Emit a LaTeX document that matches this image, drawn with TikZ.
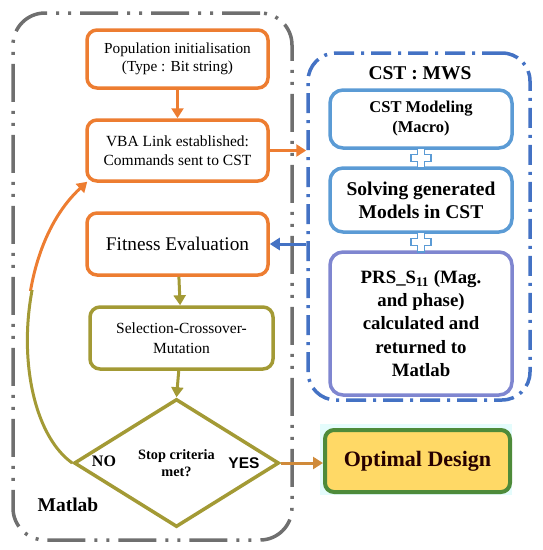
\documentclass[tikz,border=0pt]{standalone}
\usepackage{fontspec}
\setmainfont{Liberation Serif}
\newfontfamily\arialf{Liberation Sans}
\usetikzlibrary{arrows.meta,shapes.geometric,calc}
\definecolor{orangeC}{HTML}{ED7D31}
\definecolor{oliveC}{HTML}{A39A35}
\definecolor{blueBox}{HTML}{5B9BD5}
\definecolor{blueDash}{HTML}{4472C4}
\definecolor{grayC}{HTML}{6F6F6F}
\definecolor{greenB}{HTML}{4E8B3A}
\definecolor{yelC}{HTML}{FFD966}
\definecolor{limeC}{HTML}{D4EC6A}
\definecolor{cyanBg}{HTML}{E4FCFC}
\definecolor{brownA}{HTML}{D08A3A}
\definecolor{purpC}{HTML}{7F86D0}
\pgfdeclarehorizontalshading{optsh}{100bp}{color(0bp)=(limeC); color(6bp)=(limeC); color(10bp)=(yelC); color(90bp)=(yelC); color(94bp)=(limeC); color(100bp)=(limeC)}
\tikzset{
  obox/.style={draw=orangeC, line width=3.5pt, rounded corners=10pt, fill=white, align=center, inner sep=2pt},
  gbox/.style={draw=oliveC, line width=3.5pt, rounded corners=10pt, fill=white, align=center, inner sep=2pt},
  bbox/.style={draw=blueBox, line width=3.5pt, rounded corners=13pt, fill=white, align=center, inner sep=2pt, font=\bfseries},
  arr/.style={line width=3pt, -{Triangle[length=10pt,width=12pt]}},
  plusc/.pic={\draw[blueBox, line width=1.6pt, fill=white] (-3.5,-10) -- (3.5,-10) -- (3.5,-3.5) -- (10,-3.5) -- (10,3.5) -- (3.5,3.5) -- (3.5,10) -- (-3.5,10) -- (-3.5,3.5) -- (-10,3.5) -- (-10,-3.5) -- (-3.5,-3.5) -- cycle;}
}
\begin{document}
\begin{tikzpicture}[x=1pt,y=-1pt]
\useasboundingbox (0,0) rectangle (542,550);
% Matlab outer box
\node[draw=grayC, line width=3.5pt, rounded corners=32pt, minimum width=279pt, minimum height=527pt,
  dash pattern=on 38pt off 9pt on 3pt off 9pt on 3pt off 9pt] (mat) at (152.5,276.5) {};
% CST outer box
\node[draw=blueDash, line width=3.5pt, rounded corners=28pt, minimum width=222pt, minimum height=347pt,
  dash pattern=on 20pt off 7pt on 3pt off 7pt] (cst) at (419,226.5) {};
\node[font=\bfseries\fontsize{19.5}{22}\selectfont] (cstl) at (420,73) {CST : MWS};
\node[font=\bfseries\fontsize{19.5}{22}\selectfont] (matl) at (68,505) {Matlab};
% Matlab boxes
\node[obox, minimum width=181pt, minimum height=58pt, font=\fontsize{15.3}{18}\selectfont] (pop) at (177.5,59) {Population initialisation\\(Type : Bit string)};
\node[obox, minimum width=181pt, minimum height=61pt, font=\fontsize{15.5}{18.5}\selectfont] (vba) at (177.5,150.5) {VBA Link established:\\Commands sent to CST};
\node[obox, minimum width=181pt, minimum height=62pt, font=\fontsize{19.3}{22}\selectfont] (fit) at (177.5,244) {Fitness Evaluation};
\node[gbox, minimum width=183pt, minimum height=62pt, font=\fontsize{15.5}{20}\selectfont] (sel) at (181.5,338) {Selection-Crossover-\\Mutation};
\node[diamond, draw=oliveC, line width=3.5pt, minimum width=205pt, minimum height=128pt, inner sep=0pt, align=center,
  font=\bfseries\fontsize{14.3}{17}\selectfont] (dia) at (176.5,463) {Stop criteria\\met?};
\node[font=\bfseries\fontsize{16}{18}\selectfont] (no) at (104,461) {NO};
\node[font=\arialf\bfseries\fontsize{15.5}{18}\selectfont] (yes) at (244,463) {YES};
% CST boxes
\node[bbox, minimum width=182pt, minimum height=58pt, font=\bfseries\fontsize{16.5}{20}\selectfont] (cstm) at (421,119) {CST Modeling\\(Macro)};
\node[bbox, minimum width=182pt, minimum height=64pt, font=\bfseries\fontsize{19.5}{23}\selectfont] (solv) at (421,200) {Solving generated\\Models in CST};
\node[bbox, draw=purpC, minimum width=182pt, minimum height=143pt, font=\bfseries\fontsize{18.8}{23.3}\selectfont] (prs) at (421,323.5) {PRS\_S\textsubscript{11} (Mag.\\and phase)\\calculated and\\returned to\\Matlab};
\pic at ($(cstm.south)!0.5!(solv.north)$) {plusc};
\pic at ($(solv.south)!0.5!(prs.north)$) {plusc};
% Optimal design
\fill[cyanBg] (320,424) rectangle (512,495);
\node[draw=greenB, line width=4pt, rounded corners=9pt, shading=optsh,
  minimum width=185pt, minimum height=62pt, font=\bfseries\fontsize{22}{26}\selectfont, text=black!85!red] (opt) at (417.5,461) {Optimal Design};
% connectors
\draw[arr, orangeC] (pop) -- (vba);
\draw[arr, orangeC] (vba.east) -- (vba.east -| cst.west);
\draw[arr, blueDash] (fit.east -| cst.west) -- (fit.east);
\draw[arr, oliveC] (fit) -- (sel);
\draw[arr, oliveC] (sel) -- (dia.north);
\draw[arr, brownA] (dia.east) -- (dia.east -| opt.west);
\coordinate (loopend) at ($(vba.south west)+(2,-1)$);
\begin{scope}
\clip (0,0) rectangle (542,290);
\draw[arr, orangeC] (dia.west) .. controls (12,420) and (8,255) .. (loopend);
\end{scope}
\begin{scope}
\clip (0,290) rectangle (542,550);
\draw[line width=3pt, oliveC] (dia.west) .. controls (12,420) and (8,255) .. (loopend);
\end{scope}
\end{tikzpicture}
\end{document}
